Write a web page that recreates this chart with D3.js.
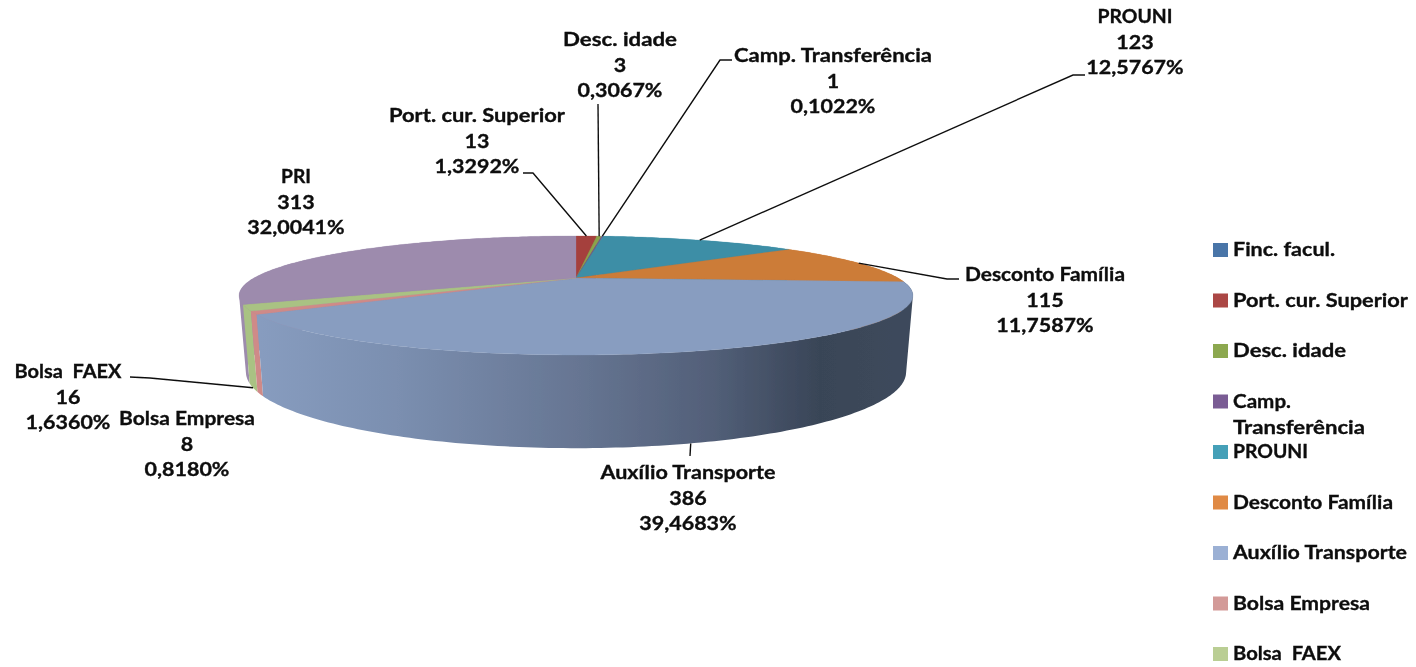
<!DOCTYPE html>
<html><head><meta charset="utf-8">
<script src="https://cdn.jsdelivr.net/npm/d3@7"></script>
<style>html,body{margin:0;background:#fff}svg{display:block}text{font-family:Lato,"Open Sans",sans-serif;font-weight:700;font-size:19px;fill:#0a0a0a;stroke:#0a0a0a;stroke-width:.3px}</style>
</head><body><div id="c"></div>
<script>
const categories = ["Finc. facul.","Port. cur. Superior","Desc. idade","Camp. Transferência","PROUNI","Desconto Família","Auxílio Transporte","Bolsa Empresa","Bolsa  FAEX","PRI"];
const values = [0,13,3,1,123,115,386,8,16,313];
const percents = ["0,0000%","1,3292%","0,3067%","0,1022%","12,5767%","11,7587%","39,4683%","0,8180%","1,6360%","32,0041%"];
const topColors = ["#4a74a8","#a5413e","#8ba34c","#6f5590","#3d8ea6","#cc7b38","#889dc0","#cf8a88","#a9c283","#9d8bad"];
const legendColors = ["#4a74a8","#ab4644","#8ca84f","#7a5c94","#44a0b8","#e08a44","#9bb0d4","#d39a98","#bace94"];
const legendNames = categories.slice(0,9);

// label layout: centre x, first baseline y, elbow of the leader
const labelLayout = {
 "Port. cur. Superior":{x:477,y:122,leader:[[523,173],[533,173]],edge:"top"},
 "Desc. idade":{x:620,y:46,leader:[[598,104]],edge:"top"},
 "Camp. Transferência":{x:833,y:62,leader:[[732,60],[720,60]],edge:"top"},
 "PROUNI":{x:1135,y:23,leader:[[1085,75],[1073,75]],edge:"top"},
 "Desconto Família":{x:1045,y:281,leader:[[959,279],[947,279]],edge:"top"},
 "Auxílio Transporte":{x:688,y:479,leader:[[690,456]],edge:"bottom"},
 "Bolsa Empresa":{x:187,y:425,leader:null},
 "Bolsa  FAEX":{x:68,y:378,leader:[[130,377],[150,378]],edge:"bottom"},
 "PRI":{x:296,y:183,leader:null}
};
const labelWidth = {"Port. cur. Superior":176,"Desc. idade":114,"Camp. Transferência":198,"PROUNI":75,"Desconto Família":160,"Auxílio Transporte":175,"Bolsa Empresa":136,"Bolsa  FAEX":107,"PRI":30};

const W=1416,H=667;
const svg=d3.select("#c").append("svg").attr("width",W).attr("height",H);
const defs=svg.append("defs");
defs.append("filter").attr("id","soft").attr("x","-5%").attr("y","-5%").attr("width","110%").attr("height","110%")
  .append("feGaussianBlur").attr("stdDeviation",0.55);
const grad=defs.append("linearGradient").attr("id","wall").attr("gradientUnits","userSpaceOnUse").attr("x1",250).attr("x2",912).attr("y1",0).attr("y2",0);
[[0,"#889dc0"],[0.22,"#7b8fb0"],[0.5,"#667592"],[0.7,"#525f78"],[0.86,"#394557"],[1,"#3e4a5c"]].forEach(s=>grad.append("stop").attr("offset",s[0]).attr("stop-color",s[1]));

// perspective projection of the unit disc onto the pie's top and bottom faces
const K=0.294;
const topFace={cx:576,R:322,c:278,a:27.4};
const botFace={cx:576,R:315.5,c:349.7,a:33.3};
function proj(f,t){const u=Math.sin(t),v=Math.cos(t),w=1+K*v;return [f.cx+f.R*u/w,(f.c+f.a*v)/w];}
const line=d3.line();
const pie=d3.pie().sort(null).value((d,i)=>values[i]);
const arcs=pie(values.map((v,i)=>i));
const samples=(a,b)=>d3.range(0,1.0001,1/Math.max(2,Math.ceil((b-a)*60))).map(s=>a+(b-a)*s);
const depth=d=>Math.cos((d.startAngle+d.endAngle)/2);

const g=svg.append("g").attr("filter","url(#soft)");
// walls, back to front: the union of small quads, so that the silhouette between faces is filled
arcs.filter(d=>d.value>0).slice().sort((a,b)=>depth(b)-depth(a)).forEach(d=>{
  const ts=samples(d.startAngle,d.endAngle);
  let dStr="";
  for(let i=0;i<ts.length-1;i++){
    let q=[proj(topFace,ts[i]),proj(topFace,ts[i+1]),proj(botFace,ts[i+1]),proj(botFace,ts[i])];
    if(d3.polygonArea(q)<0)q.reverse();
    dStr+=line(q)+"Z";
  }
  const isAux=categories[d.index]==="Auxílio Transporte";
  g.append("path").attr("d",dStr).attr("fill",isAux?"url(#wall)":topColors[d.index]);
});
// top face
arcs.filter(d=>d.value>0).forEach(d=>{
  const pts=[[topFace.cx,topFace.c]].concat(samples(d.startAngle,d.endAngle).map(t=>proj(topFace,t)));
  g.append("path").attr("d",line(pts)+"Z").attr("fill",topColors[d.index]).attr("stroke",topColors[d.index]).attr("stroke-width",0.3);
});
// leaders
arcs.forEach(d=>{
  const L=labelLayout[categories[d.index]];
  if(!L||!L.leader)return;
  const mid=(d.startAngle+d.endAngle)/2;
  const end=proj(L.edge==="top"?topFace:botFace,mid);
  g.append("path").attr("d",line(L.leader.concat([end]))).attr("fill","none").attr("stroke","#111").attr("stroke-width",1.4);
});
const tg=svg.append("g").attr("filter","url(#soft)");
// labels
arcs.forEach(d=>{
  const name=categories[d.index],L=labelLayout[name];
  if(!L)return;
  [name,String(d.value),percents[d.index]].forEach((s,i)=>{
    const t=tg.append("text").attr("x",L.x).attr("y",L.y+i*25.7).attr("text-anchor","middle").style("white-space","pre").text(s);
    if(i===0)t.attr("textLength",labelWidth[name]).attr("lengthAdjust","spacingAndGlyphs");
    else t.attr("textLength",t.node().getComputedTextLength()*1.13).attr("lengthAdjust","spacingAndGlyphs");
  });
});
// legend
const ly=d3.scalePoint().domain(legendNames).range([250,654]);
const legendWidth={"Finc. facul.":102,"Port. cur. Superior":175,"Desc. idade":113,"PROUNI":75,"Desconto Família":160,"Auxílio Transporte":174,"Bolsa Empresa":137,"Bolsa  FAEX":108};
legendNames.forEach((n,i)=>{
  const y=ly(n);
  tg.append("rect").attr("x",1213).attr("y",y-7).attr("width",15).attr("height",14).attr("fill",legendColors[i]).style("stroke","none");
  if(n==="Camp. Transferência"){
    tg.append("text").attr("x",1233).attr("y",y+6).attr("textLength",58).attr("lengthAdjust","spacingAndGlyphs").text("Camp.");
    tg.append("text").attr("x",1233).attr("y",y+32).attr("textLength",132).attr("lengthAdjust","spacingAndGlyphs").text("Transferência");
  } else {
    tg.append("text").attr("x",1233).attr("y",y+6).style("white-space","pre").attr("textLength",legendWidth[n]).attr("lengthAdjust","spacingAndGlyphs").text(n);
  }
});
</script></body></html>
